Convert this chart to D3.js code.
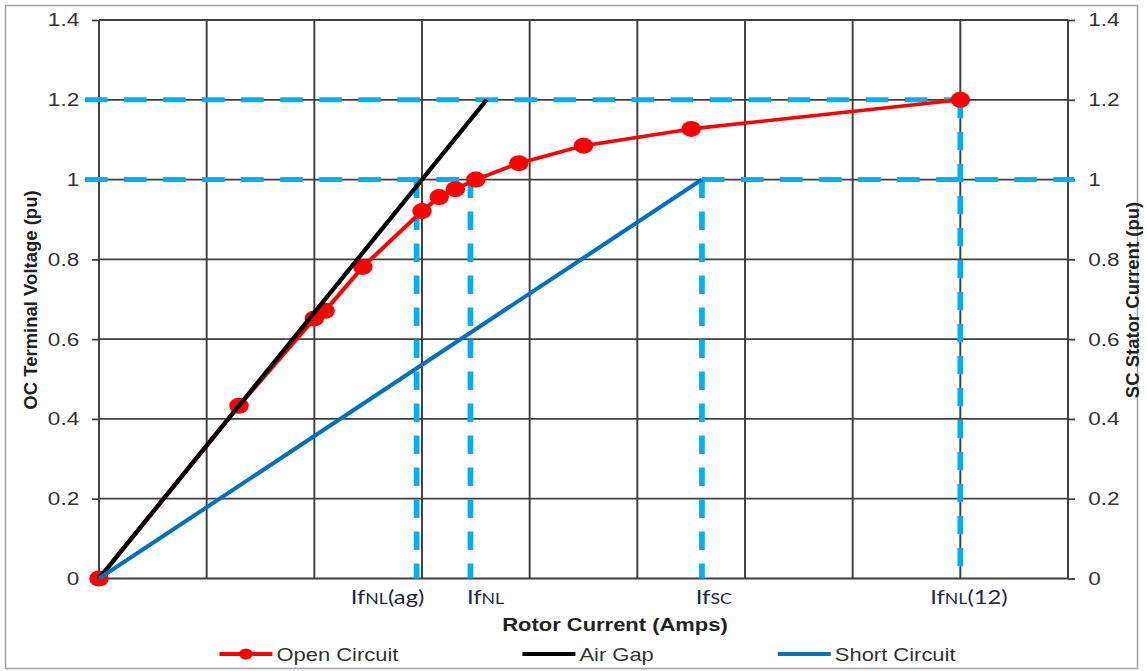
<!DOCTYPE html>
<html>
<head>
<meta charset="utf-8">
<script src="https://cdn.jsdelivr.net/npm/d3@7"></script>
<style>
  html, body { margin: 0; padding: 0; background: #fff; }
  svg { display: block; font-family: "Liberation Sans", Arial, sans-serif; }
</style>
</head>
<body>
<svg id="chart" width="1147" height="671"></svg>
<script>
// Rotor current is shown in grid divisions (no numeric scale); voltage / current in pu.
const ocCurrent = [0, 1.3, 2.0, 2.1, 2.45, 3.0, 3.16, 3.31, 3.5, 3.9, 4.5, 5.5, 8.0];
const ocVoltage = [0, 0.433, 0.652, 0.671, 0.781, 0.921, 0.956, 0.976, 1.0, 1.041, 1.085, 1.127, 1.2];
const airGapCurrent = [0, 3.6];
const airGapVoltage = [0, 1.2];
const scCurrent = [0, 5.6];
const scStatorCurrent = [0, 1.0];

const yTicks = [0, 0.2, 0.4, 0.6, 0.8, 1, 1.2, 1.4];
const yTickLabels = ["0", "0.2", "0.4", "0.6", "0.8", "1", "1.2", "1.4"];
const xGridDivisions = [0, 1, 2, 3, 4, 5, 6, 7, 8, 9];

// Characteristic field currents and the level each one is read at
const fieldNames = ["IfNL(ag)", "IfNL", "IfSC", "IfNL(12)"];
const fieldCurrent = [2.95, 3.45, 5.6, 8.0];
const fieldLevel = [1.0, 1.0, 1.0, 1.2];
const fieldLabelAt = [2.68, 3.59, 5.71, 8.08];

// Horizontal reference levels (pu) and their extent along the current axis
const levelValue = [1.2, 1.0, 1.0];
const levelFrom = [-0.13, -0.13, 5.6];
const levelTo = [8.0, 3.45, 9.06];

const seriesNames = ["Open Circuit", "Air Gap", "Short Circuit"];
const seriesColors = ["#ff0000", "#000000", "#0070c0"];

// ---------------------------------------------------------------------------
const SX = 1.22;               // horizontal stretch of the whole drawing
const svg = d3.select("#chart");

// outer frame
svg.append("rect")
  .attr("x", 5.5).attr("y", 5.5).attr("width", 1132).attr("height", 663)
  .attr("fill", "none").attr("stroke", "#a6a6a6").attr("stroke-width", 1.6);

const g = svg.append("g").attr("transform", `scale(${SX},1)`);

const x = d3.scaleLinear().domain([0, 9]).range([99 / SX, 1068 / SX]);
const y = d3.scaleLinear().domain([0, 1.4]).range([578.5, 20]);

const gridColor = "#3f3f3f";

// gridlines
g.append("g").selectAll("line").data(yTicks).join("line")
  .attr("x1", x(0)).attr("x2", x(9))
  .attr("y1", d => y(d)).attr("y2", d => y(d))
  .attr("stroke", gridColor).attr("stroke-width", 1.8);
g.append("g").selectAll("line").data(xGridDivisions).join("line")
  .attr("x1", d => x(d)).attr("x2", d => x(d))
  .attr("y1", y(0)).attr("y2", y(1.4))
  .attr("stroke", gridColor).attr("stroke-width", 1.6);

// left and right value axes
const tickLen = 7 / SX;
const leftAxis = d3.axisLeft(y).tickValues(yTicks)
  .tickFormat((d, i) => yTickLabels[i]).tickSize(tickLen).tickPadding(10.5);
const rightAxis = d3.axisRight(y).tickValues(yTicks)
  .tickFormat((d, i) => yTickLabels[i]).tickSize(tickLen).tickPadding(10.8);

function styleAxis(sel) {
  sel.select(".domain").remove();
  sel.selectAll(".tick line").attr("stroke", gridColor).attr("stroke-width", 1.8);
  sel.selectAll(".tick text")
    .attr("font-family", "Liberation Sans, Arial, sans-serif")
    .attr("font-size", 18.5).attr("fill", "#333");
}
g.append("g").attr("transform", `translate(${x(0)},0)`).call(leftAxis).call(styleAxis);
g.append("g").attr("transform", `translate(${x(9)},0)`).call(rightAxis).call(styleAxis);

// dashed reference lines
const dash = "18.5,13.5";
const guides = g.append("g").attr("stroke", "#00b0f0").attr("fill", "none");
levelValue.forEach((v, i) => {
  guides.append("line")
    .attr("x1", x(levelFrom[i])).attr("x2", x(levelTo[i]))
    .attr("y1", y(v)).attr("y2", y(v))
    .attr("stroke-width", 5).attr("stroke-dasharray", dash);
});
fieldCurrent.forEach((c, i) => {
  guides.append("line")
    .attr("x1", x(c)).attr("x2", x(c))
    .attr("y1", y(fieldLevel[i])).attr("y2", y(0))
    .attr("stroke-width", 4.7).attr("stroke-dasharray", dash);
});

// series
const line = d3.line().x(d => x(d[0])).y(d => y(d[1]));
const ocPts = ocCurrent.map((c, i) => [c, ocVoltage[i]]);
const agPts = airGapCurrent.map((c, i) => [c, airGapVoltage[i]]);
const scPts = scCurrent.map((c, i) => [c, scStatorCurrent[i]]);

g.append("path").datum(ocPts).attr("d", line)
  .attr("fill", "none").attr("stroke", seriesColors[0]).attr("stroke-width", 3.6)
  .attr("stroke-linejoin", "round");
g.append("g").selectAll("circle").data(ocPts).join("circle")
  .attr("cx", d => x(d[0])).attr("cy", d => y(d[1])).attr("r", 8)
  .attr("fill", seriesColors[0]);
g.append("path").datum(agPts).attr("d", line)
  .attr("fill", "none").attr("stroke", seriesColors[1]).attr("stroke-width", 3.8);
g.append("path").datum(scPts).attr("d", line)
  .attr("fill", "none").attr("stroke", seriesColors[2]).attr("stroke-width", 3.8);

// field-current labels under the axis
const fieldLabels = g.append("g")
  .attr("font-family", "Lato, 'Open Sans', sans-serif")
  .attr("fill", "#262640").attr("text-anchor", "middle");
fieldNames.forEach((name, i) => {
  const m = name.match(/^If([A-Z]+)(.*)$/);
  const t = fieldLabels.append("text")
    .attr("x", x(fieldLabelAt[i])).attr("y", 604).attr("font-size", 19.5);
  t.append("tspan").text("If");
  t.append("tspan").attr("font-size", 14.5).text(m[1]);
  if (m[2]) t.append("tspan").text(m[2]);
});

// x-axis title
g.append("text")
  .attr("x", 615 / SX).attr("y", 631)
  .attr("text-anchor", "middle").attr("font-weight", "bold")
  .attr("font-size", 18).attr("fill", "#222")
  .text("Rotor Current (Amps)");

// y-axis titles (rotated, not stretched)
svg.append("text")
  .attr("transform", "translate(37,300) rotate(-90)")
  .attr("text-anchor", "middle").attr("font-weight", "bold")
  .attr("font-size", 18.5).attr("fill", "#222")
  .text("OC Terminal Voltage (pu)");
svg.append("text")
  .attr("transform", "translate(1139,300) rotate(-90)")
  .attr("text-anchor", "middle").attr("font-weight", "bold")
  .attr("font-size", 18.5).attr("fill", "#222")
  .text("SC Stator Current (pu)");

// legend
const legend = g.append("g").attr("font-size", 18).attr("fill", "#333");
const swatch = 53 / SX, swGap = 4 / SX, itemGap = 124 / SX;
const items = seriesNames.map((name, i) => {
  const it = legend.append("g");
  it.append("line").attr("x1", 0).attr("x2", swatch).attr("y1", 0).attr("y2", 0)
    .attr("stroke", seriesColors[i]).attr("stroke-width", 4);
  if (i === 0) it.append("circle").attr("cx", swatch / 2).attr("cy", 0).attr("r", 5.5)
    .attr("fill", seriesColors[i]);
  const txt = it.append("text").attr("x", swatch + swGap).attr("y", 6.5).text(name);
  return { it, w: swatch + swGap + txt.node().getComputedTextLength() };
});
const total = d3.sum(items, d => d.w) + itemGap * (items.length - 1);
let cursor = 587.5 / SX - total / 2;
items.forEach(d => {
  d.it.attr("transform", `translate(${cursor},654)`);
  cursor += d.w + itemGap;
});
</script>
</body>
</html>
